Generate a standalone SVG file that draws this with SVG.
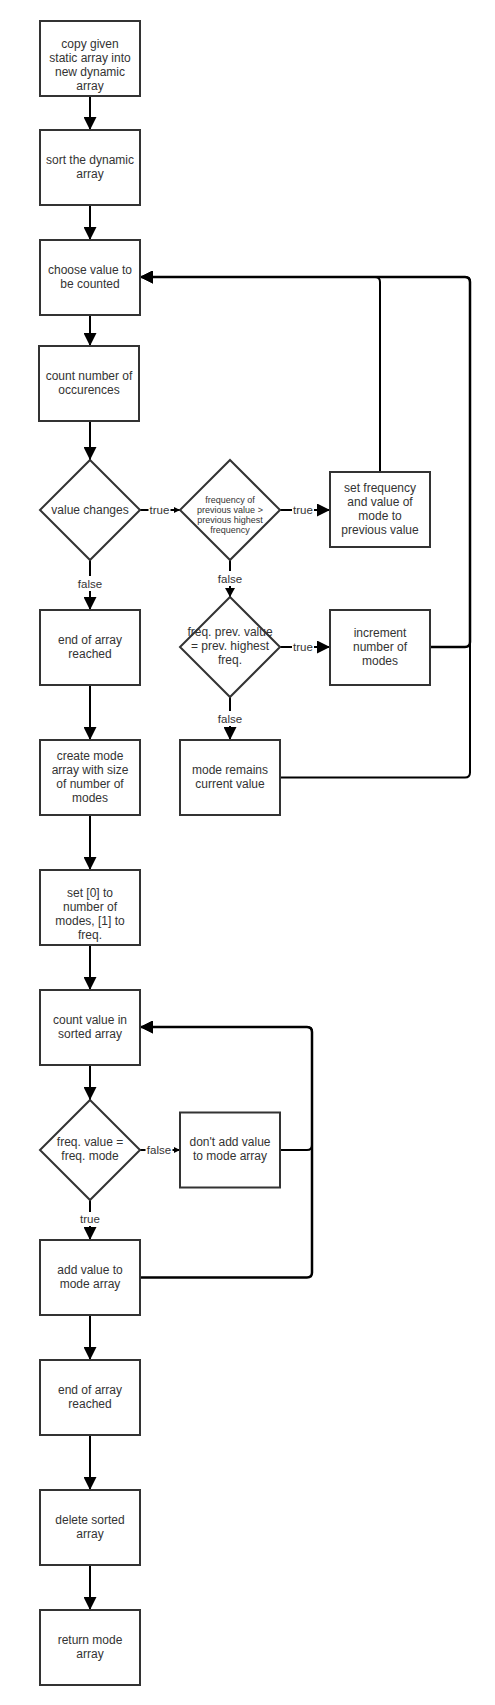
<svg xmlns="http://www.w3.org/2000/svg" width="495" height="1705" viewBox="0 0 495 1705">
<style>
.box{fill:#fff;stroke:#333;stroke-width:2}
.t{font-family:"Liberation Sans",Arial,sans-serif;font-size:12px;fill:#333;text-anchor:middle}
.ts{font-size:9px}
.e{fill:none;stroke:#000;stroke-width:2}
.w{stroke-width:2.5}
.lb{font-family:"Liberation Sans",Arial,sans-serif;font-size:11.5px;fill:#333;text-anchor:middle}
.bg{fill:#fff}
</style>
<defs>
<marker id="big" markerUnits="userSpaceOnUse" markerWidth="13" markerHeight="13" refX="13" refY="6.5" orient="auto"><path d="M0,0 L13,6.5 L0,13 z" fill="#000"/></marker>
<marker id="med" markerUnits="userSpaceOnUse" markerWidth="9" markerHeight="10" refX="9" refY="5" orient="auto"><path d="M0,0 L9,5 L0,10 z" fill="#000"/></marker>
<marker id="sm" markerUnits="userSpaceOnUse" markerWidth="6" markerHeight="6" refX="6" refY="3" orient="auto"><path d="M0,0 L6,3 L0,6 z" fill="#000"/></marker>
</defs>
<rect width="495" height="1705" fill="#fff"/>

<g id="connectors">
<path class="e" d="M90,96 V130" marker-end="url(#big)"/>
<path class="e" d="M90,205 V240" marker-end="url(#big)"/>
<path class="e" d="M90,315 V346" marker-end="url(#big)"/>
<path class="e" d="M90,421 V460" marker-end="url(#big)"/>
<path class="e" d="M140,510 H180" marker-end="url(#sm)"/>
<path class="e" d="M280,510 H330" marker-end="url(#big)"/>
<path class="e" d="M90,560 V610" marker-end="url(#big)"/>
<path class="e" d="M230,560 V597" marker-end="url(#med)"/>
<path class="e" d="M280,647 H330" marker-end="url(#big)"/>
<path class="e" d="M230,697 V740" marker-end="url(#big)"/>
<path class="e" d="M380,472 V282 Q380,277 375,277 H140" marker-end="url(#big)"/>
<path class="e w" d="M430,647 H465 Q470,647 470,642 V282 Q470,277 465,277 H140" marker-end="url(#big)"/>
<path class="e" d="M280,777.5 H465 Q470,777.5 470,772.5 V282 Q470,277 465,277 H140" marker-end="url(#big)"/>
<path class="e" d="M90,685 V740" marker-end="url(#big)"/>
<path class="e" d="M90,815 V870" marker-end="url(#big)"/>
<path class="e" d="M90,945 V990" marker-end="url(#big)"/>
<path class="e" d="M90,1065 V1100" marker-end="url(#big)"/>
<path class="e" d="M140,1150 H180" marker-end="url(#sm)"/>
<path class="e" d="M90,1200 V1240" marker-end="url(#big)"/>
<path class="e" d="M280,1150 H307 Q312,1150 312,1145 V1032 Q312,1027 307,1027 H140" marker-end="url(#big)"/>
<path class="e w" d="M140,1277.5 H307 Q312,1277.5 312,1272.5 V1032 Q312,1027 307,1027 H140" marker-end="url(#big)"/>
<path class="e" d="M90,1315 V1360" marker-end="url(#big)"/>
<path class="e" d="M90,1435 V1490" marker-end="url(#big)"/>
<path class="e" d="M90,1565 V1610" marker-end="url(#big)"/>
<rect class="bg" x="148.5" y="503" width="22" height="14"/><text class="lb" x="159.5" y="514">true</text>
<rect class="bg" x="292" y="503" width="22" height="14"/><text class="lb" x="303" y="514">true</text>
<rect class="bg" x="76.5" y="576" width="27" height="15"/><text class="lb" x="90" y="587.5">false</text>
<rect class="bg" x="216.5" y="571" width="27" height="15"/><text class="lb" x="230" y="582.5">false</text>
<rect class="bg" x="292" y="640" width="22" height="14"/><text class="lb" x="303" y="651">true</text>
<rect class="bg" x="216.5" y="711" width="27" height="15"/><text class="lb" x="230" y="722.5">false</text>
<rect class="bg" x="145.5" y="1143" width="27" height="14"/><text class="lb" x="159" y="1154">false</text>
<rect class="bg" x="79" y="1212" width="22" height="14"/><text class="lb" x="90" y="1223">true</text>
</g>

<g id="n1"><rect class="box" x="40" y="21" width="100" height="75"/><text class="t"><tspan x="90" y="48">copy given</tspan><tspan x="90" y="62">static array into</tspan><tspan x="90" y="76">new dynamic</tspan><tspan x="90" y="90">array</tspan></text></g>
<g id="n2"><rect class="box" x="40" y="130" width="100" height="75"/><text class="t"><tspan x="90" y="163.5">sort the dynamic</tspan><tspan x="90" y="177.5">array</tspan></text></g>
<g id="n3"><rect class="box" x="40" y="240" width="100" height="75"/><text class="t"><tspan x="90" y="273.5">choose value to</tspan><tspan x="90" y="287.5">be counted</tspan></text></g>
<g id="n4"><rect class="box" x="39" y="346" width="100" height="75"/><text class="t"><tspan x="89" y="379.5">count number of</tspan><tspan x="89" y="393.5">occurences</tspan></text></g>
<g id="d1"><polygon class="box" points="90,460 140,510 90,560 40,510"/><text class="t" x="90" y="513.5">value changes</text></g>
<g id="d2"><polygon class="box" points="230,460 280,510 230,560 180,510"/><text class="t ts"><tspan x="230" y="502.5">frequency of</tspan><tspan x="230" y="512.5">previous value &gt;</tspan><tspan x="230" y="522.5">previous highest</tspan><tspan x="230" y="532.5">frequency</tspan></text></g>
<g id="n5"><rect class="box" x="330" y="472" width="100" height="75"/><text class="t"><tspan x="380" y="491.5">set frequency</tspan><tspan x="380" y="505.5">and value of</tspan><tspan x="380" y="519.5">mode to</tspan><tspan x="380" y="533.5">previous value</tspan></text></g>
<g id="n6"><rect class="box" x="40" y="610" width="100" height="75"/><text class="t"><tspan x="90" y="643.5">end of array</tspan><tspan x="90" y="657.5">reached</tspan></text></g>
<g id="d3"><polygon class="box" points="230,597 280,647 230,697 180,647"/><text class="t"><tspan x="230" y="636">freq. prev. value</tspan><tspan x="230" y="650">= prev. highest</tspan><tspan x="230" y="664">freq.</tspan></text></g>
<g id="n7"><rect class="box" x="330" y="610" width="100" height="75"/><text class="t"><tspan x="380" y="636.5">increment</tspan><tspan x="380" y="650.5">number of</tspan><tspan x="380" y="664.5">modes</tspan></text></g>
<g id="n8"><rect class="box" x="40" y="740" width="100" height="75"/><text class="t"><tspan x="90" y="759.5">create mode</tspan><tspan x="90" y="773.5">array with size</tspan><tspan x="90" y="787.5">of number of</tspan><tspan x="90" y="801.5">modes</tspan></text></g>
<g id="n9"><rect class="box" x="180" y="740" width="100" height="75"/><text class="t"><tspan x="230" y="773.5">mode remains</tspan><tspan x="230" y="787.5">current value</tspan></text></g>
<g id="n10"><rect class="box" x="40" y="870" width="100" height="75"/><text class="t"><tspan x="90" y="897">set [0] to</tspan><tspan x="90" y="911">number of</tspan><tspan x="90" y="925">modes, [1] to</tspan><tspan x="90" y="939">freq.</tspan></text></g>
<g id="n11"><rect class="box" x="40" y="990" width="100" height="75"/><text class="t"><tspan x="90" y="1023.5">count value in</tspan><tspan x="90" y="1037.5">sorted array</tspan></text></g>
<g id="d4"><polygon class="box" points="90,1100 140,1150 90,1200 40,1150"/><text class="t"><tspan x="90" y="1146">freq. value =</tspan><tspan x="90" y="1160">freq. mode</tspan></text></g>
<g id="n12"><rect class="box" x="180" y="1112.5" width="100" height="75"/><text class="t"><tspan x="230" y="1146">don't add value</tspan><tspan x="230" y="1160">to mode array</tspan></text></g>
<g id="n13"><rect class="box" x="40" y="1240" width="100" height="75"/><text class="t"><tspan x="90" y="1273.5">add value to</tspan><tspan x="90" y="1287.5">mode array</tspan></text></g>
<g id="n14"><rect class="box" x="40" y="1360" width="100" height="75"/><text class="t"><tspan x="90" y="1393.5">end of array</tspan><tspan x="90" y="1407.5">reached</tspan></text></g>
<g id="n15"><rect class="box" x="40" y="1490" width="100" height="75"/><text class="t"><tspan x="90" y="1523.5">delete sorted</tspan><tspan x="90" y="1537.5">array</tspan></text></g>
<g id="n16"><rect class="box" x="40" y="1610" width="100" height="75"/><text class="t"><tspan x="90" y="1643.5">return mode</tspan><tspan x="90" y="1657.5">array</tspan></text></g>
</svg>
